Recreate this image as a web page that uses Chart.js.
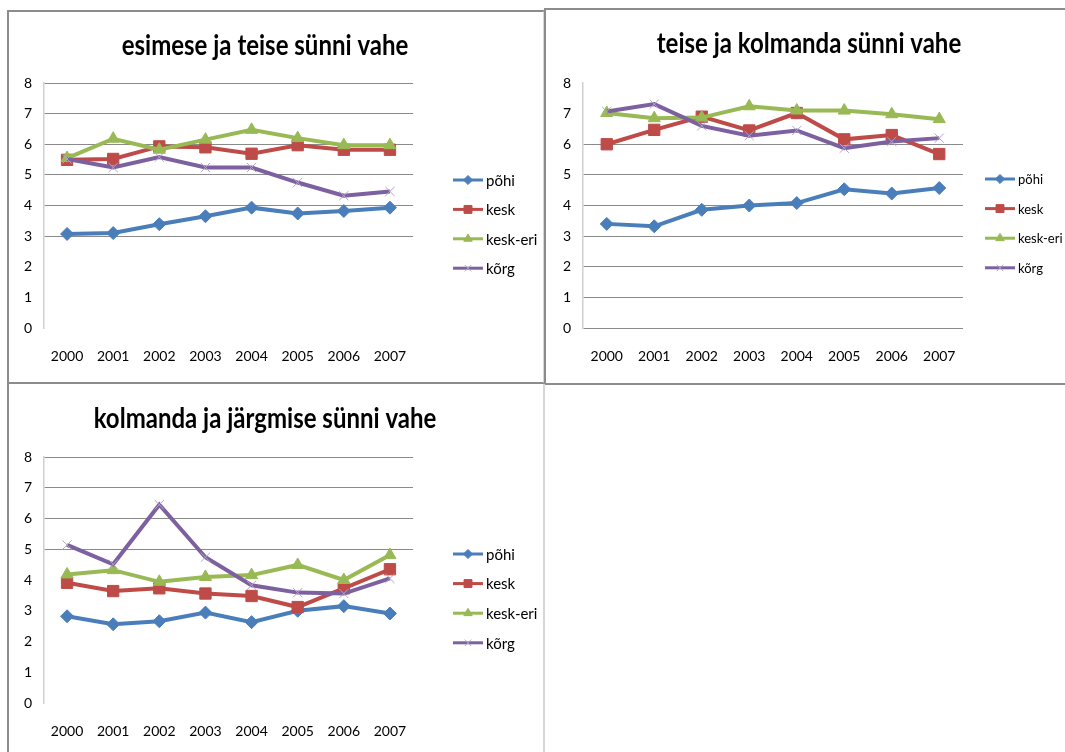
<!DOCTYPE html>
<html>
<head>
<meta charset="utf-8">
<title>Sündide vahe</title>
<script src="https://cdn.jsdelivr.net/npm/chart.js@4.4.1/dist/chart.umd.min.js"></script>
<style>
  html, body { margin: 0; padding: 0; background: #fff; overflow: hidden; }
  body { width: 1065px; height: 752px; position: relative; }
  .panel { position: absolute; background: #fff; }
  .panel canvas { position: absolute; left: 0; top: 0; }
  #box1 { left: 7px; top: 10px; width: 534px; height: 370px; border: 2px solid #8c8c8c; border-right-color: #d6d6d6; }
  #box2 { left: 544px; top: 8px; width: 530px; height: 373px; border: 2px solid #8c8c8c; }
  #box3 { left: 7px; top: 384px; width: 534px; height: 380px; border-left: 2px solid #8c8c8c; border-right: 2px solid #d6d6d6; }
</style>
</head>
<body>
<div class="panel" id="box1"><canvas id="c1" width="534" height="370"></canvas></div>
<div class="panel" id="box2"><canvas id="c2" width="530" height="373"></canvas></div>
<div class="panel" id="box3"><canvas id="c3" width="534" height="368"></canvas></div>
<script>
// aastad ja rühmad
const aastad = ['2000', '2001', '2002', '2003', '2004', '2005', '2006', '2007'];
const ruhmad = ['põhi', 'kesk', 'kesk-eri', 'kõrg'];
const yTicks = [0, 1, 2, 3, 4, 5, 6, 7, 8];

// esimese ja teise sünni vahe
const pohi1 = [3.07, 3.10, 3.39, 3.65, 3.93, 3.74, 3.82, 3.93];
const kesk1 = [5.49, 5.52, 5.93, 5.90, 5.69, 5.97, 5.82, 5.82];
const keskEri1 = [5.55, 6.18, 5.82, 6.15, 6.47, 6.20, 5.97, 5.97];
const korg1 = [5.52, 5.24, 5.58, 5.24, 5.24, 4.75, 4.32, 4.46];

// teise ja kolmanda sünni vahe
const pohi2 = [3.40, 3.32, 3.86, 4.00, 4.08, 4.53, 4.39, 4.57];
const kesk2 = [6.00, 6.47, 6.90, 6.45, 7.02, 6.16, 6.30, 5.68];
const keskEri2 = [7.02, 6.85, 6.87, 7.24, 7.10, 7.10, 6.98, 6.82];
const korg2 = [7.07, 7.31, 6.60, 6.28, 6.45, 5.87, 6.09, 6.20];

// kolmanda ja järgmise sünni vahe
const pohi3 = [2.82, 2.56, 2.66, 2.94, 2.63, 3.00, 3.15, 2.91];
const kesk3 = [3.91, 3.64, 3.73, 3.56, 3.48, 3.12, 3.73, 4.35];
const keskEri3 = [4.18, 4.32, 3.94, 4.10, 4.16, 4.49, 4.00, 4.81];
const korg3 = [5.14, 4.51, 6.45, 4.74, 3.83, 3.59, 3.56, 4.05];

const pealkiri1 = 'esimese ja teise sünni vahe';
const pealkiri2 = 'teise ja kolmanda sünni vahe';
const pealkiri3 = 'kolmanda ja järgmise sünni vahe';

// joonte ja markerite stiilid (Excel 2007 värvid)
const stiilid = [
  { color: '#4a7ebb', marker: 'rectRot', radius: 6.5, fill: '#4a7ebb', border: '#4a7ebb', bw: 1 },
  { color: '#be4b48', marker: 'rect', radius: 8, fill: '#be4b48', border: '#be4b48', bw: 1 },
  { color: '#98b954', marker: 'triangle', radius: 7, fill: '#98b954', border: '#98b954', bw: 1 },
  { color: '#7d60a0', marker: 'crossRot', radius: 6.5, fill: '#b3a2c7', border: '#b3a2c7', bw: 1 }
];

// pealkiri ja legend joonistatakse käsitsi, et asukohad oleks täpselt paigas
const paneeliKujundus = {
  id: 'paneeliKujundus',
  afterDraw(chart, args, opts) {
    const ctx = chart.ctx;
    ctx.save();
    ctx.fillStyle = '#000';
    ctx.font = 'bold 24px Lato';
    ctx.textAlign = 'center';
    ctx.textBaseline = 'middle';
    // kõrgem, kitsam kiri nagu Calibri puhul
    ctx.translate(opts.titleX, opts.titleY);
    ctx.scale(1, 1.22);
    ctx.fillText(opts.title, 0, 0);
    ctx.setTransform(1, 0, 0, 1, 0, 0);

    ctx.font = opts.legendFont;
    ctx.textAlign = 'left';
    chart.data.datasets.forEach((ds, i) => {
      const s = stiilid[i];
      const y = opts.legendY + i * opts.legendGap;
      ctx.strokeStyle = s.color;
      ctx.lineWidth = 3;
      ctx.beginPath();
      ctx.moveTo(opts.legendX, y);
      ctx.lineTo(opts.legendX + 30, y);
      ctx.stroke();
      ctx.fillStyle = s.fill;
      ctx.strokeStyle = s.border;
      ctx.lineWidth = s.bw;
      Chart.helpers.drawPoint(ctx, {
        pointStyle: s.marker, radius: s.radius * 0.7, rotation: 0, borderWidth: s.bw
      }, opts.legendX + 15, y);
      ctx.fillStyle = '#000';
      ctx.fillText(ds.label, opts.legendX + 33, y + 1);
    });
    ctx.restore();
  }
};

function looGraafik(id, seeriad, p) {
  const canvas = document.getElementById(id);
  const W = canvas.width, H = canvas.height;
  new Chart(canvas, {
    type: 'line',
    data: {
      labels: aastad,
      datasets: seeriad.map((andmed, i) => ({
        label: ruhmad[i],
        data: andmed,
        borderColor: stiilid[i].color,
        backgroundColor: stiilid[i].fill,
        borderWidth: 4,
        pointStyle: stiilid[i].marker,
        pointRadius: stiilid[i].radius,
        pointBackgroundColor: stiilid[i].fill,
        pointBorderColor: stiilid[i].border,
        pointBorderWidth: stiilid[i].bw,
        tension: 0,
        order: 4 - i
      }))
    },
    options: {
      responsive: false,
      animation: false,
      devicePixelRatio: 1,
      layout: { padding: { left: 0, top: p.top, right: W - p.right, bottom: 0 } },
      plugins: {
        legend: { display: false },
        tooltip: { enabled: false },
        paneeliKujundus: p.decor
      },
      scales: {
        x: {
          offset: true,
          grid: { display: false, drawTicks: false },
          border: { display: false },
          ticks: { font: { family: 'Lato', size: 14 }, color: '#000', padding: p.xPad, maxRotation: 0 },
          afterFit(scale) { scale.height = H - p.bottom; }
        },
        y: {
          min: 0,
          max: 8,
          afterBuildTicks(scale) { scale.ticks = yTicks.map(v => ({ value: v })); },
          grid: {
            drawTicks: false,
            lineWidth: 1,
            color: c => (c.tick.value >= p.gridLo && c.tick.value <= p.gridHi) ? '#8a8a8a' : 'rgba(0,0,0,0)'
          },
          border: { display: true, color: '#d0d0d0', width: 1.5 },
          ticks: { font: { family: 'Lato', size: 14 }, color: '#000', padding: 12 },
          afterFit(scale) { scale.width = p.left; }
        }
      }
    },
    plugins: [paneeliKujundus]
  });
}

looGraafik('c1', [pohi1, kesk1, keskEri1, korg1], {
  left: 35, top: 71, right: 404, bottom: 316, xPad: 20, gridLo: 3, gridHi: 8,
  decor: { title: pealkiri1, titleX: 256, titleY: 34, legendX: 444, legendY: 168, legendGap: 29.4, legendFont: '15px Lato' }
});
looGraafik('c2', [pohi2, kesk2, keskEri2, korg2], {
  left: 37, top: 73, right: 417, bottom: 318, xPad: 20, gridLo: 0, gridHi: 6,
  decor: { title: pealkiri2, titleX: 263, titleY: 34, legendX: 439, legendY: 169, legendGap: 29.6, legendFont: '13px "Liberation Sans Narrow", Lato' }
});
looGraafik('c3', [pohi3, kesk3, keskEri3, korg3], {
  left: 35, top: 73, right: 404, bottom: 319, xPad: 20, gridLo: 5, gridHi: 8,
  decor: { title: pealkiri3, titleX: 256, titleY: 35, legendX: 444, legendY: 170, legendGap: 29.6, legendFont: '15px Lato' }
});
</script>
</body>
</html>
